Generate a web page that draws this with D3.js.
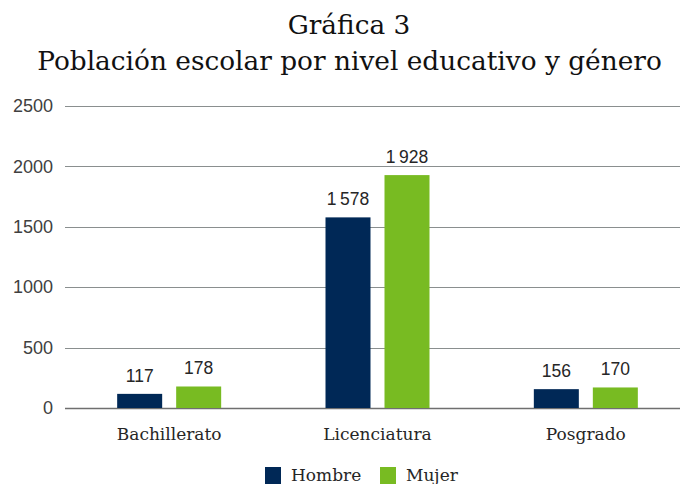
<!DOCTYPE html>
<html><head><meta charset="utf-8">
<script src="https://cdn.jsdelivr.net/npm/d3@7"></script>
<style>body{margin:0;background:#fff}svg{display:block}</style>
</head><body>
<script>
const categories = ["Bachillerato", "Licenciatura", "Posgrado"];
const seriesNames = ["Hombre", "Mujer"];
const hombre = [117, 1578, 156];
const mujer = [178, 1928, 170];
const yTicks = [0, 500, 1000, 1500, 2000, 2500];
const titleLines = ["Gráfica 3", "Población escolar por nivel educativo y género"];
const colors = ["#002856", "#78bb22"];

const W = 680, H = 484;
const svg = d3.select("body").append("svg").attr("width", W).attr("height", H);
const serif = "'DejaVu Serif', serif";
const sans = "'Liberation Sans', Arial, sans-serif";

const x0 = d3.scaleBand().domain(categories).range([65, 690]).paddingInner(0).paddingOuter(0);
const x1 = d3.scaleBand().domain(seriesNames).range([-52, 52]).paddingInner(14/59);
const y = d3.scaleLinear().domain([0, 2500]).range([408, 106]);

// gridlines
svg.append("g").selectAll("line").data(yTicks).join("line")
  .attr("x1", 65).attr("x2", 680)
  .attr("y1", d => Math.round(y(d)) + 0.5).attr("y2", d => Math.round(y(d)) + 0.5)
  .attr("stroke", d => d === 0 ? "#6f6f6f" : "#8a8f8f").attr("stroke-width", d => d === 0 ? 1.5 : 1.2);

// y axis labels
const yAxis = d3.axisLeft(y).tickValues(yTicks).tickSize(0).tickPadding(0).tickFormat(d3.format("d"));
const ya = svg.append("g").attr("transform", "translate(53,0)").call(yAxis);
ya.select(".domain").remove();
ya.selectAll("text").attr("font-family", sans).attr("font-size", 18).attr("fill", "#404040");

// bars
const data = categories.map((c, i) => ({cat: c, vals: [hombre[i], mujer[i]]}));
const fmt = v => { const s = String(v); return s.length > 3 ? s.slice(0, s.length - 3) + "\u2009" + s.slice(-3) : s; };
const groups = svg.append("g").selectAll("g").data(data).join("g")
  .attr("transform", d => `translate(${x0(d.cat) + x0.bandwidth() / 2},0)`);
groups.selectAll("rect").data(d => d.vals.map((v, j) => ({s: seriesNames[j], v, j}))).join("rect")
  .attr("x", d => x1(d.s)).attr("width", x1.bandwidth())
  .attr("y", d => y(d.v)).attr("height", d => y(0) - y(d.v))
  .attr("fill", d => colors[d.j]);
groups.selectAll("text.val").data(d => d.vals.map((v, j) => ({s: seriesNames[j], v, j}))).join("text")
  .attr("class", "val")
  .attr("x", d => x1(d.s) + x1.bandwidth() / 2).attr("y", d => y(d.v) - 12)
  .attr("text-anchor", "middle").attr("font-family", sans).attr("font-size", 17.5).attr("fill", "#262626")
  .text(d => fmt(d.v));

// category labels
svg.append("g").selectAll("text").data(categories).join("text")
  .attr("x", d => x0(d) + x0.bandwidth() / 2).attr("y", 440)
  .attr("text-anchor", "middle").attr("font-family", serif).attr("font-size", 17).attr("fill", "#262626")
  .text(d => d);

// legend
const legX = [265, 380];
const leg = svg.append("g").selectAll("g").data(seriesNames).join("g")
  .attr("transform", (d, i) => `translate(${legX[i]},467)`);
leg.append("rect").attr("width", 16).attr("height", 17).attr("fill", (d, i) => colors[i]);
leg.append("text").attr("x", 26).attr("y", 14).attr("font-family", serif).attr("font-size", 17)
  .attr("fill", "#262626").text(d => d);

// titles
const t1 = svg.append("text").attr("x", 349).attr("y", 34).attr("text-anchor", "middle")
  .attr("font-family", serif).attr("font-size", 23).attr("fill", "#111").text(titleLines[0]);
const t2 = svg.append("text").attr("x", 349.5).attr("y", 70).attr("text-anchor", "middle")
  .attr("font-family", serif).attr("font-size", 23).attr("fill", "#111").text(titleLines[1]);
const w2 = t2.node().getComputedTextLength();
const fs = 23 * 625 / w2;
t2.attr("font-size", fs);
t1.attr("font-size", fs);
</script>
</body></html>
